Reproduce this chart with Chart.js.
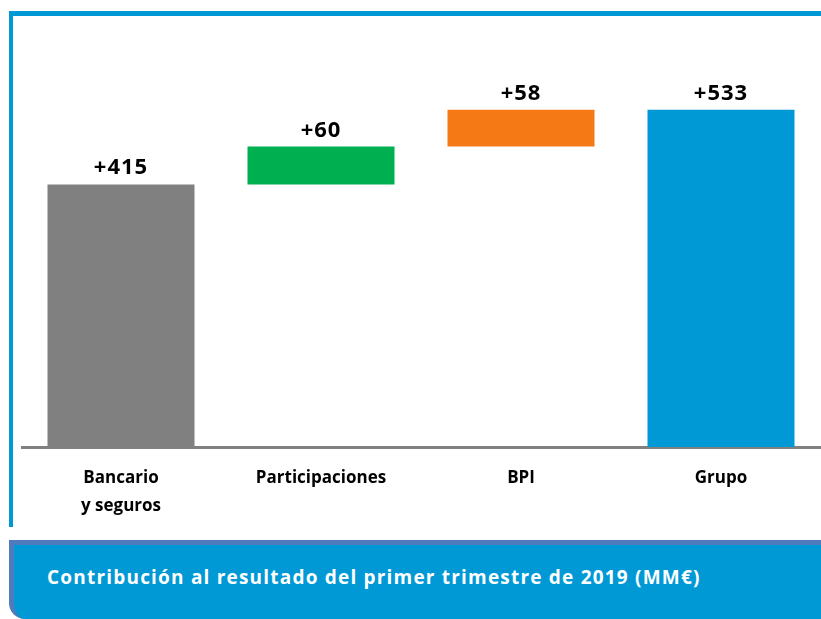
<!DOCTYPE html>
<html>
<head>
<meta charset="utf-8">
<script src="https://cdn.jsdelivr.net/npm/chart.js@4.4.1/dist/chart.umd.min.js"></script>
<style>
  html, body { margin: 0; padding: 0; background: #fff; }
  body { width: 821px; height: 619px; position: relative; overflow: hidden; font-family: "Open Sans", sans-serif; }
  .frame-top { position: absolute; left: 9px; top: 11px; width: 812px; height: 5px; background: #0099d6; }
  .frame-left { position: absolute; left: 9px; top: 11px; width: 4px; height: 516px; background: #0099d6; }
  #wrap { position: absolute; left: 21px; top: 20px; width: 800px; height: 507px; }
  .banner {
    position: absolute; left: 9px; top: 540px; width: 812px; height: 79px;
    background: #0099d6; border-top: 5px solid #4f7bbd; border-left: 5px solid #4f7bbd;
    border-bottom-left-radius: 16px; box-sizing: border-box;
  }
  .banner span {
    position: absolute; left: 33px; top: 19px; color: #fff; font-weight: bold;
    font-size: 19px; letter-spacing: 1.2px; white-space: nowrap;
  }
</style>
</head>
<body>
<div class="frame-top"></div>
<div class="frame-left"></div>
<div id="wrap"><canvas id="chart"></canvas></div>
<div class="banner"><span>Contribución al resultado del primer trimestre de 2019 (MM€)</span></div>
<script>
// datos (MM€)
const categories = [["Bancario", "y seguros"], "Participaciones", "BPI", "Grupo"];
const contributions = [415, 60, 58, 533];
const barStart = [0, 415, 475, 0];
const barEnd = [415, 475, 533, 533];
const barColors = ["#808080", "#00b050", "#f57a16", "#0099d6"];

// etiqueta "+valor" encima de cada barra
const valueLabels = {
  id: "valueLabels",
  afterDatasetsDraw(chart) {
    const ctx = chart.ctx;
    const meta = chart.getDatasetMeta(0);
    ctx.save();
    ctx.font = "bold 22px 'Open Sans', sans-serif";
    ctx.letterSpacing = "1px";
    ctx.fillStyle = "#000";
    ctx.textAlign = "center";
    ctx.textBaseline = "alphabetic";
    meta.data.forEach((bar, i) => {
      const top = Math.min(bar.y, bar.base);
      ctx.fillText("+" + contributions[i], bar.x, top - 10);
    });
    ctx.restore();
  }
};

new Chart(document.getElementById("chart"), {
  type: "bar",
  data: {
    labels: categories,
    datasets: [{
      data: barStart.map((s, i) => [s, barEnd[i]]),
      backgroundColor: barColors,
      borderWidth: 0,
      barPercentage: 0.735,
      categoryPercentage: 1
    }]
  },
  options: {
    responsive: true,
    maintainAspectRatio: false,
    animation: false,
    layout: { padding: 0 },
    plugins: {
      legend: { display: false },
      tooltip: { enabled: false }
    },
    scales: {
      x: {
        grid: { display: false, drawTicks: false },
        border: { display: true, color: "#808080", width: 3 },
        ticks: {
          color: "#000",
          padding: 17,
          font: { family: "'Open Sans', sans-serif", size: 17, weight: "bold", lineHeight: 1.65 }
        },
        afterFit(scale) { scale.height = 80; }
      },
      y: {
        display: false,
        min: 0,
        max: 675
      }
    }
  },
  plugins: [valueLabels]
});
</script>
</body>
</html>
